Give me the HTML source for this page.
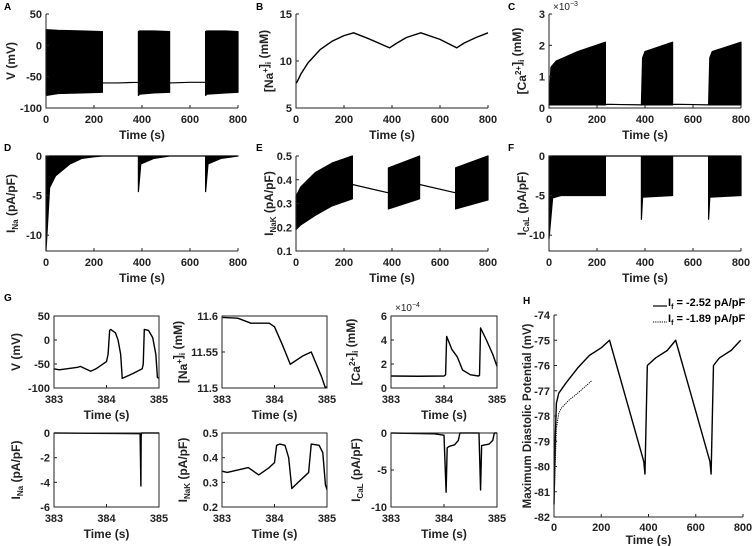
<!DOCTYPE html>
<html><head><meta charset="utf-8"><style>
html,body{margin:0;padding:0;background:#fff;}
svg{display:block;font-family:"Liberation Sans",Arial,sans-serif;font-weight:bold;}
</style></head><body>
<svg id="fig" width="755" height="546" viewBox="0 0 755 546"></svg>
<script>
// ===== Panel A: membrane potential envelope =====
const aT=[0,2,50,150,235,235,300,385,385,390,450,515,515,600,665,665,670,750,800];
const aUp=[25,25,24,23,22,-60,-60,-59,22,23,23,22,-60,-59,-59,22,23,23,22];
const aLo=[-78,-80,-77,-76,-75,-60,-60,-59,-80,-78,-76,-75,-60,-59,-59,-80,-78,-76,-75];
// ===== Panel B: [Na+]i =====
const bT=[0,5,20,50,100,150,200,240,300,390,420,460,520,600,670,700,750,800];
const bV=[7.6,7.8,8.6,9.8,11.2,12.1,12.7,13,12.4,11.4,11.9,12.5,13,12.3,11.4,11.9,12.5,13];
// ===== Panel C: [Ca2+]i (x1e-3) =====
const cT=[0,8,30,120,235,235,300,385,390,400,515,515,600,665,670,680,800];
const cUp=[0.1,1.3,1.5,1.8,2.1,0.12,0.11,0.1,1.6,1.8,2.1,0.12,0.11,0.1,1.6,1.8,2.1];
const cLo=[0.1,0.1,0.1,0.1,0.1,0.12,0.11,0.1,0.1,0.1,0.1,0.12,0.11,0.1,0.1,0.1,0.1];
// ===== Panel D: INa =====
const dT=[0,15,40,100,150,200,235,385,385,395,450,515,665,665,675,730,800];
const dUp=[0,0,0,0,0,0,0,0,0,0,0,0,0,0,0,0,0];
const dLo=[-12,-4,-2.5,-1,-0.3,-0.1,0,0,-4.5,-1,-0.3,0,0,-4.5,-1,-0.3,0];
// ===== Panel E: INaK =====
const eT=[0,20,80,150,235,235,385,385,515,515,665,665,800];
const eUp=[0.33,0.37,0.43,0.47,0.5,0.38,0.345,0.45,0.5,0.38,0.345,0.45,0.5];
const eLo=[0.19,0.21,0.25,0.29,0.32,0.38,0.345,0.277,0.32,0.38,0.345,0.277,0.315];
// ===== Panel F: ICaL =====
const fT=[0,15,50,235,235,385,385,390,515,515,665,665,670,800];
const fUp=[0,0,0,0,0,0,0,0,0,0,0,0,0,0];
const fLo=[-10.5,-5.3,-5,-5,0,0,-8,-5.2,-5,0,0,-8,-5.2,-5];
// ===== Panel G (zoom 383-385 s) =====
const g1T=[383,383.1,383.45,383.5,383.7,383.8,384.0,384.03,384.06,384.08,384.17,384.22,384.27,384.3,384.5,384.68,384.7,384.72,384.8,384.88,384.94,384.97,385];
const g1V=[-60,-62,-57,-55,-65,-60,-45,-30,20,22,15,0,-30,-80,-70,-60,-50,22,20,5,-30,-78,-80];
const g2T=[383,383.3,383.55,383.9,384.0,384.15,384.3,384.55,384.7,384.9,384.97,385];
const g2V=[11.598,11.597,11.59,11.59,11.585,11.56,11.533,11.545,11.55,11.515,11.5,11.502];
const g3T=[383,383.5,384.0,384.03,384.05,384.15,384.25,384.35,384.5,384.65,384.67,384.69,384.8,384.92,385];
const g3V=[1.0,0.98,1.0,1.1,4.3,3.2,2.6,1.5,1.1,1.0,1.05,5.0,4.0,2.8,1.8];
const g4T=[383,384.64,384.655,384.66,384.67,385];
const g4V=[0,-0.05,-4.3,-0.2,0,0];
const g5T=[383,383.1,383.5,383.7,383.9,384.0,384.04,384.1,384.2,384.27,384.33,384.45,384.6,384.65,384.7,384.85,384.92,384.97,385];
const g5V=[0.345,0.34,0.36,0.33,0.36,0.38,0.45,0.455,0.45,0.40,0.275,0.30,0.33,0.34,0.455,0.45,0.42,0.29,0.27];
const g6T=[383,383.8,384.0,384.04,384.06,384.1,384.2,384.27,384.3,384.66,384.69,384.71,384.85,384.92,384.95,385];
const g6V=[0,-0.1,-0.3,-8,-2,-1.8,-1.6,-1,0,0,-7.7,-1.7,-1.5,-1,0,0];
// ===== Panel H: maximum diastolic potential =====
const hT=[0,5,10,20,50,100,150,200,235,380,385,395,430,480,515,660,665,675,700,750,790];
const hV=[-81.5,-79,-77.5,-77.1,-76.7,-76.1,-75.6,-75.3,-75,-79.8,-80.3,-76,-75.7,-75.4,-75,-79.8,-80.3,-76,-75.7,-75.4,-75];
const hDotT=[0,5,10,20,30,60,100,160];
const hDotV=[-81.5,-80,-78.5,-77.9,-77.7,-77.4,-77.1,-76.6];
// ticks
const xTicksLong=[0,200,400,600,800];
const xTicksG=[383,384,385];
const yTicksA=[-100,-50,0,50], yTicksB=[5,10,15], yTicksC=[0,1,2,3];
const yTicksD=[-10,-5,0], yTicksE=[0.1,0.2,0.3,0.4,0.5], yTicksF=[-10,-5,0];
const yTicksG1=[-100,-50,0,50], yTicksG2=[11.5,11.55,11.6], yTicksG3=[0,2,4,6];
const yTicksG4=[-6,-4,-2,0], yTicksG5=[0.2,0.3,0.4,0.5], yTicksG6=[-10,-5,0];
const yTicksH=[-82,-81,-80,-79,-78,-77,-76,-75,-74];

const svg=document.getElementById('fig');
const NS='http://www.w3.org/2000/svg';
function el(tag,attrs,parent){const e=document.createElementNS(NS,tag);for(const k in attrs)e.setAttribute(k,attrs[k]);(parent||svg).appendChild(e);return e;}
function fmt(v){return String(v);}
function makeAxes(name,box,xd,yd){
  const g=el('g',{});
  
  
  const sx=v=>box.x0+(v-xd[0])/(xd[1]-xd[0])*(box.x1-box.x0);
  const sy=v=>box.y1-(v-yd[0])/(yd[1]-yd[0])*(box.y1-box.y0);
  return {g,sx,sy,box};
}
function drawFrame(ax,xt,yt,boxed,xlab,ylabHTML,ylx,ylsize,tOff,lOff){
  const b=ax.box,g=ax.g;
  tOff=tOff||15; lOff=lOff||31;
  const fr=el('path',{d:boxed?`M${b.x0},${b.y0}H${b.x1}V${b.y1}H${b.x0}Z`:`M${b.x0},${b.y0}V${b.y1}H${b.x1}`,fill:'none',stroke:'#222','stroke-width':1},g);
  
  
  xt.forEach(v=>{const x=ax.sx(v);
    el('line',{x1:x,x2:x,y1:b.y1,y2:b.y1-3,stroke:'#222'},g);
    const t=el('text',{x:x,y:b.y1+tOff,'text-anchor':'middle','font-size':11,fill:'#222'},g);
    
    
    t.textContent=fmt(v);});
  yt.forEach(v=>{const y=ax.sy(v);
    el('line',{x1:b.x0,x2:b.x0+3,y1:y,y2:y,stroke:'#222'},g);
    const t=el('text',{x:b.x0-4,y:y+4,'text-anchor':'end','font-size':11,fill:'#222'},g);
    
    
    t.textContent=fmt(v);});
  if(xlab){const t=el('text',{x:(b.x0+b.x1)/2,y:b.y1+lOff,'text-anchor':'middle','font-size':12,fill:'#222'},g);
    
    
    t.textContent='Time (s)';}
  const cy=(b.y0+b.y1)/2;
  const yl=el('text',{x:ylx,y:cy,'text-anchor':'middle','font-size':ylsize||12,fill:'#222',transform:`rotate(-90 ${ylx} ${cy})`},g);
  
  
  yl.innerHTML=ylabHTML;
}
function envelope(ax,t,up,lo,name){
  let pts=t.map((v,i)=>ax.sx(v)+','+ax.sy(up[i]));
  for(let i=t.length-1;i>=0;i--)pts.push(ax.sx(t[i])+','+ax.sy(lo[i]));
  const p=el('polygon',{points:pts.join(' '),fill:'#000',stroke:'#000','stroke-width':1.2,'stroke-linejoin':'round'},ax.g);
  
  
}
function line(ax,t,v,name,dash){
  const p=el('polyline',{points:t.map((x,i)=>ax.sx(x)+','+ax.sy(v[i])).join(' '),fill:'none',stroke:'#000','stroke-width':dash?1:1.4,'stroke-dasharray':dash?'1.2,1':'none','stroke-linejoin':'round'},ax.g);
  
  
}
function letter(ch,x,y){const t=el('text',{x:x,y:y,'font-size':10,fill:'#000'});
  
  
  t.textContent=ch;}
const sub=s=>`<tspan dy="3" font-size="8">${s}</tspan><tspan dy="-3"> </tspan>`;
const sup=s=>`<tspan dy="-5" font-size="8">${s}</tspan><tspan dy="5"></tspan>`;
const pApF='(pA/pF)';

// Row 1
const axA=makeAxes('panel-a-voltage',{x0:46,x1:238,y0:14,y1:108},[0,800],[-100,50]);
envelope(axA,aT,aUp,aLo,'voltage-trace');
drawFrame(axA,xTicksLong,yTicksA,false,true,'V (mV)',15);
const axB=makeAxes('panel-b-sodium',{x0:296,x1:488,y0:14,y1:108},[0,800],[5,15]);
line(axB,bT,bV,'sodium-line');
drawFrame(axB,xTicksLong,yTicksB,false,true,'[Na'+sup('+')+']'+sub('i')+'(mM)',273);
const axC=makeAxes('panel-c-calcium',{x0:549,x1:741,y0:14,y1:108},[0,800],[0,3]);
envelope(axC,cT,cUp,cLo,'calcium-trace');
drawFrame(axC,xTicksLong,yTicksC,false,true,'[Ca'+sup('2+')+']'+sub('i')+'(mM)',526);
// Row 2
const axD=makeAxes('panel-d-ina',{x0:46,x1:238,y0:156,y1:251},[0,800],[-12,0]);
envelope(axD,dT,dUp,dLo,'ina-trace');
drawFrame(axD,xTicksLong,yTicksD,false,true,'I'+sub('Na')+pApF,15);
const axE=makeAxes('panel-e-inak',{x0:296,x1:488,y0:156,y1:251},[0,800],[0.1,0.5]);
envelope(axE,eT,eUp,eLo,'inak-trace');
drawFrame(axE,xTicksLong,yTicksE,false,true,'I'+sub('NaK')+pApF,273);
const axF=makeAxes('panel-f-ical',{x0:549,x1:741,y0:156,y1:251},[0,800],[-12,0]);
envelope(axF,fT,fUp,fLo,'ical-trace');
drawFrame(axF,xTicksLong,yTicksF,false,true,'I'+sub('CaL')+pApF,526);
// G
const axG1=makeAxes('panel-g-voltage',{x0:54,x1:159,y0:316,y1:388},[383,385],[-100,50]);
line(axG1,g1T,g1V,'g-voltage-line');
drawFrame(axG1,xTicksG,yTicksG1,true,true,'V (mV)',20);
const axG2=makeAxes('panel-g-sodium',{x0:222,x1:327,y0:316,y1:388},[383,385],[11.5,11.6]);
line(axG2,g2T,g2V,'g-sodium-line');
drawFrame(axG2,xTicksG,yTicksG2,true,true,'[Na'+sup('+')+']'+sub('i')+'(mM)',187);
const axG3=makeAxes('panel-g-calcium',{x0:391,x1:497,y0:316,y1:388},[383,385],[0,6]);
line(axG3,g3T,g3V,'g-calcium-line');
drawFrame(axG3,xTicksG,yTicksG3,true,true,'[Ca'+sup('2+')+']'+sub('i')+'(mM)',360);
const axG4=makeAxes('panel-g-ina',{x0:54,x1:159,y0:433,y1:507},[383,385],[-6,0]);
line(axG4,g4T,g4V,'g-ina-line');
drawFrame(axG4,xTicksG,yTicksG4,true,true,'I'+sub('Na')+pApF,20);
const axG5=makeAxes('panel-g-inak',{x0:222,x1:327,y0:433,y1:507},[383,385],[0.2,0.5]);
line(axG5,g5T,g5V,'g-inak-line');
drawFrame(axG5,xTicksG,yTicksG5,true,true,'I'+sub('NaK')+pApF,187);
const axG6=makeAxes('panel-g-ical',{x0:391,x1:497,y0:433,y1:507},[383,385],[-10,0]);
line(axG6,g6T,g6V,'g-ical-line');
drawFrame(axG6,xTicksG,yTicksG6,true,true,'I'+sub('CaL')+pApF,360);
// H
const axH=makeAxes('panel-h-mdp',{x0:554,x1:743,y0:315,y1:517},[0,800],[-82,-74]);
line(axH,hT,hV,'mdp-line-2-52');
line(axH,hDotT,hDotV,'mdp-line-1-89',true);
drawFrame(axH,xTicksLong,yTicksH,false,true,'Maximum Diastolic Potential (mV)',531,11.5,14,27);

// multipliers
[[553,10,'−3','c-multiplier'],[395,311,'−4','g-multiplier']].forEach(m=>{
  const t=el('text',{x:m[0],y:m[1],'font-size':10,'font-weight':'normal',fill:'#222'});
  
  
  t.innerHTML='×10'+`<tspan dy="-4" font-size="7">${m[2]}</tspan>`;
});
// legend
const lg=el('g',{});


el('line',{x1:653,x2:667,y1:306,y2:306,stroke:'#000','stroke-width':1.2},lg);
el('line',{x1:653,x2:667,y1:322,y2:322,stroke:'#000','stroke-width':1,'stroke-dasharray':'1.2,1'},lg);
const l1=el('text',{x:668,y:306,'font-size':11,fill:'#000'},lg);


l1.innerHTML='I<tspan dy="3" font-size="7">f</tspan><tspan dy="-3"> = -2.52 pA/pF</tspan>';
const l2=el('text',{x:668,y:322,'font-size':11,fill:'#000'},lg);


l2.innerHTML='I<tspan dy="3" font-size="7">f</tspan><tspan dy="-3"> = -1.89 pA/pF</tspan>';

letter('A',4,10);letter('B',256,10);letter('C',508,10);
letter('D',4,151);letter('E',256,151);letter('F',508,151);
letter('G',4,301);letter('H',523,304);
</script>
</body></html>
